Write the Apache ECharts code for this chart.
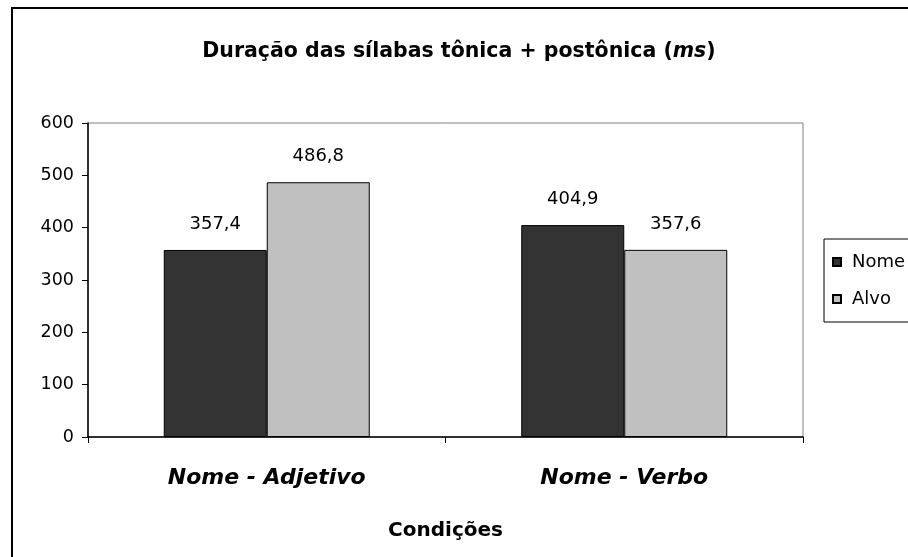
<!DOCTYPE html>
<html><head><meta charset="utf-8">
<script src="https://cdn.jsdelivr.net/npm/echarts@6/dist/echarts.min.js"></script>
<style>html,body{margin:0;padding:0;background:#fff}#c{width:908px;height:557px}</style>
</head><body><div id="c"></div>
<script>
const categories = ['Nome - Adjetivo', 'Nome - Verbo'];
const seriesNames = ['Nome', 'Alvo'];
const nomeValues = [357.4, 404.9];
const alvoValues = [486.8, 357.6];
const yTicks = [0, 100, 200, 300, 400, 500, 600];

const FONT = '"DejaVu Sans", "Liberation Sans", Arial, sans-serif';
const chart = echarts.init(document.getElementById('c'), null, {renderer: 'canvas'});
const fmt = p => String(p.value).replace('.', ',');
const labelCfg = {show: true, position: 'top', distance: 17, formatter: fmt, color: '#000', fontFamily: FONT, fontSize: 18};
chart.setOption({
  animation: false,
  backgroundColor: '#fff',
  title: {
    text: '{b|Duração das sílabas tônica + postônica (}{i|ms}{b|)}',
    left: 454, top: 36, textAlign: 'center',
    textStyle: {rich: {
      b: {fontFamily: FONT, fontWeight: 'bold', fontSize: 20.5, color: '#000'},
      i: {fontFamily: FONT, fontWeight: 'bold', fontStyle: 'italic', fontSize: 20.5, color: '#000'}
    }}
  },
  legend: {
    orient: 'vertical', left: 824, top: 239,
    data: seriesNames,
    itemWidth: 8, itemHeight: 8, itemGap: 19,
    padding: [14, 20, 14, 8],
    borderColor: '#000', borderWidth: 1,
    textStyle: {fontFamily: FONT, fontSize: 18, color: '#000', padding: [0, 0, 0, 6]},
    icon: 'rect'
  },
  grid: {left: 88, right: 105, top: 123, bottom: 120, show: true, borderColor: '#808080', borderWidth: 1, backgroundColor: '#fff'},
  xAxis: {
    type: 'category', data: categories,
    name: 'Condições', nameLocation: 'middle', nameGap: 84,
    nameTextStyle: {fontFamily: FONT, fontWeight: 'bold', fontSize: 20, color: '#000'},
    axisLine: {lineStyle: {color: '#000', width: 1.5}},
    axisTick: {show: true, length: 6, lineStyle: {color: '#000'}},
    axisLabel: {fontFamily: FONT, fontWeight: 'bold', fontStyle: 'italic', fontSize: 22, color: '#000', margin: 30},
    splitLine: {show: false}
  },
  yAxis: {
    type: 'value', min: 0, max: 600, interval: 100,
    axisLine: {show: true, lineStyle: {color: '#000', width: 1.5}},
    axisTick: {show: true, length: 6, lineStyle: {color: '#000'}},
    axisLabel: {fontFamily: FONT, fontSize: 17.5, color: '#000', margin: 14,
      formatter: v => yTicks.includes(v) ? String(v) : ''},
    splitLine: {show: false}
  },
  graphic: [{type: 'rect', shape: {x: 12, y: 8, width: 1000, height: 700}, style: {fill: 'none', stroke: '#000', lineWidth: 2}, silent: true, z: 100}],
  series: [
    {name: 'Nome', type: 'bar', data: nomeValues, barWidth: 103, barGap: '0%',
     itemStyle: {color: '#333333', borderColor: '#000', borderWidth: 1}, label: labelCfg},
    {name: 'Alvo', type: 'bar', data: alvoValues, barWidth: 103, barGap: '0%',
     itemStyle: {color: '#c0c0c0', borderColor: '#000', borderWidth: 1}, label: labelCfg}
  ]
});
</script></body></html>
